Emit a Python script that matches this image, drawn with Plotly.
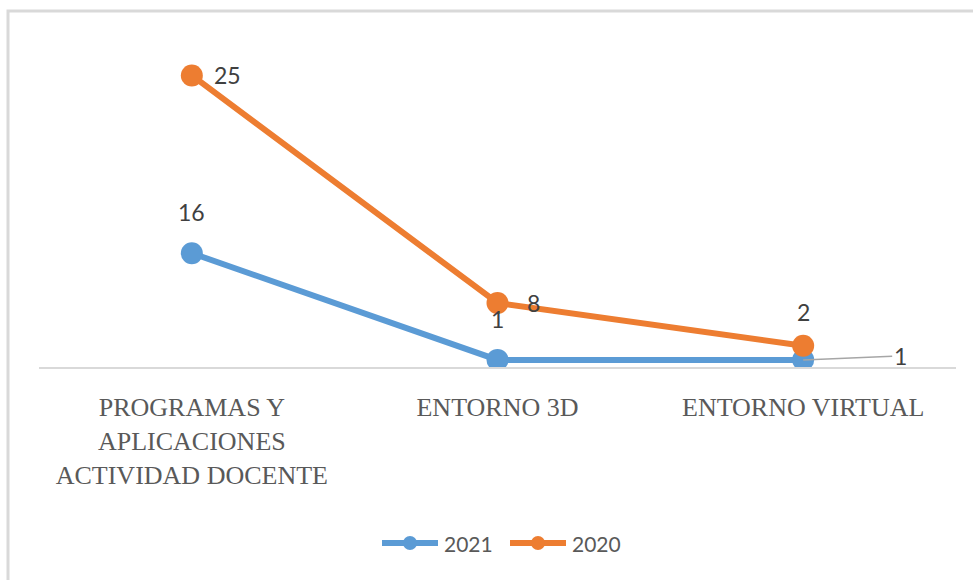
import plotly.graph_objects as go

# Categories and series values
categories = ["PROGRAMAS Y<br>APLICACIONES<br>ACTIVIDAD DOCENTE", "ENTORNO 3D", "ENTORNO VIRTUAL"]
series_names = ["2021", "2020"]
values_2021 = [16, 1, 1]
values_2020 = [25, 8, 2]

BLUE = "#5B9BD5"
ORANGE = "#ED7D31"
LABEL_COLOR = "#404040"
colors = [BLUE, ORANGE]

# Plot area in pixels (used to convert legend/frame positions to paper units)
L, R, T, B = 39, 956, 47, 367
W, H = R - L, B - T


def px(x):
    return (x - L) / W


def py(y):
    return (B - y) / H


fig = go.Figure()

# Stacked lines (no fill): 2021 at the bottom, 2020 stacked on top of it
for name, vals, color in zip(series_names, [values_2021, values_2020], colors):
    fig.add_trace(go.Scatter(
        x=categories, y=vals, name=name,
        mode="lines+markers", stackgroup="s", fill="none",
        line=dict(color=color, width=6),
        marker=dict(color=color, size=22),
        hoverinfo="skip", showlegend=False,
    ))

# Stacked heights used to place the data labels
top_2021 = list(values_2021)
top_2020 = [a + b for a, b in zip(values_2021, values_2020)]

label_font = dict(family="Lato, Open Sans, sans-serif", size=23, color=LABEL_COLOR)
annotations = []

# 2021 labels: above the points, the last one pulled out to the right with a leader line
for i, (cat, v, y) in enumerate(zip(categories, values_2021, top_2021)):
    if i < len(categories) - 1:
        annotations.append(dict(x=cat, y=y, text=str(v), showarrow=False,
                                yshift=41, font=label_font))
    else:
        annotations.append(dict(x=cat, y=y, text=str(v), showarrow=True,
                                arrowhead=0, arrowwidth=1.5, arrowcolor="#A6A6A6",
                                ax=97, ay=-4, standoff=0, startstandoff=0,
                                xanchor="center", font=label_font))

# 2020 labels: to the right of the points, the last one above
for i, (cat, v, y) in enumerate(zip(categories, values_2020, top_2020)):
    if i < len(categories) - 1:
        annotations.append(dict(x=cat, y=y, text=str(v), showarrow=False,
                                xshift=36, font=label_font))
    else:
        annotations.append(dict(x=cat, y=y, text=str(v), showarrow=False,
                                yshift=34, font=label_font))

# Chart frame (only its top and left edges fall inside the page)
shapes = [dict(type="rect", xref="paper", yref="paper",
               x0=px(8), x1=px(990), y0=py(600), y1=py(11),
               line=dict(color="#D9D9D9", width=3), layer="below")]

# Legend: long line keys with a dot in the middle
legend_y = 543
legend_starts = [382, 510]
for name, color, x0 in zip(series_names, colors, legend_starts):
    shapes.append(dict(type="line", xref="paper", yref="paper",
                       x0=px(x0), x1=px(x0 + 56), y0=py(legend_y), y1=py(legend_y),
                       line=dict(color=color, width=6)))
    cx = x0 + 28
    shapes.append(dict(type="circle", xref="paper", yref="paper",
                       x0=px(cx - 7), x1=px(cx + 7), y0=py(legend_y + 7), y1=py(legend_y - 7),
                       fillcolor=color, line=dict(width=0)))
    annotations.append(dict(xref="paper", yref="paper", x=px(x0 + 60), y=py(legend_y),
                            xanchor="left", yanchor="middle", showarrow=False, text=name,
                            font=dict(family="Lato, Open Sans, sans-serif", size=21,
                                      color="#595959")))

fig.update_layout(
    width=973, height=580,
    margin=dict(l=L, r=973 - R, t=T, b=580 - B, autoexpand=False),
    paper_bgcolor="white", plot_bgcolor="white",
    showlegend=False,
    xaxis=dict(range=[-0.5, 2.5], automargin=False, showgrid=False, zeroline=False,
               showline=True, linecolor="#D9D9D9", linewidth=2, ticks="",
               tickfont=dict(family="Liberation Serif, Times New Roman, serif",
                             size=26, color="#595959"),
               ticklabelstandoff=16, fixedrange=True),
    yaxis=dict(range=[0, 45], automargin=False, showgrid=False, zeroline=False,
               showline=False, showticklabels=False, ticks="", fixedrange=True),
    annotations=annotations,
    shapes=shapes,
)

fig.write_html("out.html")
